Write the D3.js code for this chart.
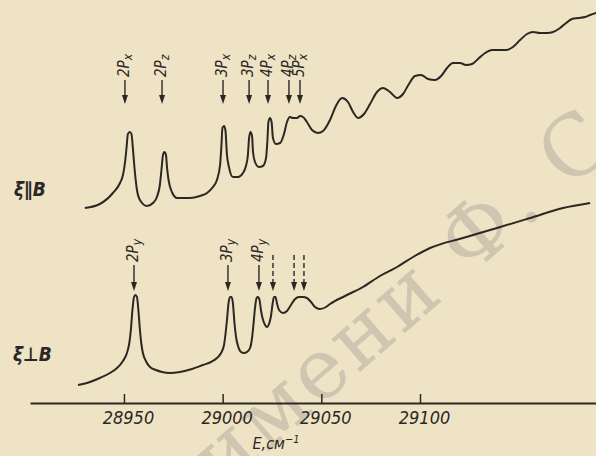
<!doctype html>
<html lang="ru">
<head>
<meta charset="UTF-8" />
<script src="https://d3js.org/d3.v7.min.js"></script>
<style>
  body { margin: 0; background: #efe3c5; }
  svg { display: block; }
</style>
</head>
<body>
<div id="chart"></div>
<script>
// photon energy, cm^-1, and absorption (arb. units)
const energyPar = [28930.2, 28937.8, 28944.4, 28948.0, 28949.5, 28950.5, 28951.3, 28952.0, 28953.0, 28953.8,
  28954.6, 28955.3, 28956.6, 28958.1, 28961.7, 28964.7, 28966.7, 28968.2, 28969.0, 28969.8,
  28970.5, 28971.3, 28971.8, 28972.6, 28974.3, 28976.9, 28983.4, 28988.5, 28992.1, 28995.1,
  28997.1, 28998.7, 28999.4, 28999.9, 29000.7, 29001.4, 29002.2, 29003.2, 29005.2, 29007.8,
  29010.3, 29011.8, 29012.8, 29013.4, 29014.1, 29014.9, 29015.4, 29016.4, 29018.4, 29020.4,
  29022.0, 29022.7, 29023.2, 29024.0, 29024.8, 29025.5, 29027.0, 29029.1, 29031.1, 29032.6,
  29034.1, 29035.6, 29037.7, 29039.2, 29040.7, 29042.7, 29045.3, 29048.3, 29050.9, 29054.4,
  29057.4, 29060.5, 29063.5, 29066.1, 29068.6, 29071.6, 29074.7, 29078.2, 29081.3, 29084.8,
  29088.4, 29091.4, 29094.4, 29097.5, 29100.5, 29104.1, 29107.6, 29110.7, 29113.7, 29116.7,
  29120.3, 29123.3, 29126.4, 29129.9, 29133.0, 29136.5, 29140.0, 29143.6, 29147.1, 29150.7,
  29154.2, 29157.3, 29160.8, 29164.4, 29167.4, 29171.0, 29174.0, 29177.0, 29180.1, 29183.6,
  29186.2, 29189.2]
const absPar = [195, 199, 210, 220, 228, 240, 255, 269, 271, 269,
  253, 236, 213, 203, 197, 200, 206, 218, 233, 248,
  251, 248, 236, 223, 211, 205, 205, 207, 210, 216,
  223, 238, 258, 275, 277, 273, 248, 236, 226, 226,
  230, 237, 248, 265, 271, 267, 251, 241, 236, 237,
  245, 263, 281, 285, 281, 265, 259, 260, 269, 281,
  286, 285, 285, 287, 286, 281, 273, 270, 272, 283,
  297, 305, 301, 291, 285, 289, 299, 311, 315, 311,
  305, 309, 319, 327, 328, 324, 323, 327, 335, 340,
  340, 338, 339, 345, 350, 353, 353, 353, 356, 363,
  369, 371, 370, 370, 371, 375, 380, 384, 385, 386,
  388, 390]

const energyPerp = [28926.7, 28932.8, 28937.8, 28942.9, 28946.5, 28949.5, 28951.5, 28952.8, 28953.5, 28954.3,
  28955.1, 28955.8, 28956.6, 28957.3, 28958.1, 28958.9, 28959.6, 28961.1, 28963.2, 28966.2,
  28969.3, 28973.3, 28978.4, 28984.5, 28990.0, 28994.1, 28997.1, 28999.2, 29000.7, 29001.4,
  29002.2, 29003.0, 29003.7, 29004.5, 29005.2, 29006.0, 29006.8, 29007.8, 29009.3, 29010.8,
  29012.3, 29013.9, 29014.9, 29015.6, 29016.4, 29017.2, 29017.9, 29018.7, 29019.4, 29020.2,
  29021.5, 29022.5, 29023.5, 29024.5, 29025.3, 29026.0, 29026.8, 29027.5, 29028.6, 29030.6,
  29032.6, 29034.6, 29036.7, 29038.7, 29040.7, 29042.7, 29044.8, 29046.8, 29049.3, 29052.4,
  29054.4, 29062.0, 29071.1, 29079.7, 29088.4, 29096.5, 29105.1, 29121.8, 29139.0, 29155.8,
  29172.5, 29186.2]
const absPerp = [18, 21, 25, 30, 35, 42, 50, 61, 73, 93,
  106, 108, 106, 93, 73, 58, 50, 42, 36, 33,
  31, 30, 31, 34, 38, 41, 45, 50, 58, 68,
  83, 100, 106, 106, 100, 80, 66, 57, 51, 50,
  51, 55, 65, 78, 95, 105, 106, 103, 93, 85,
  78, 76, 79, 87, 99, 106, 106, 100, 93, 90,
  92, 98, 104, 106, 106, 105, 101, 96, 94, 96,
  99, 107, 116, 127, 136, 146, 155, 165, 175, 185,
  195, 200]

// line markers
const parNames = ["2P", "2P", "3P", "3P", "4P", "4P", "5P"]
const parSubs = ["x", "z", "x", "z", "x", "z", "x"]
const parEnergy = [28950.5, 28969.3, 29000.2, 29013.4, 29023.0, 29033.6, 29039.2]

const perpNames = ["2P", "3P", "4P", "", "", ""]
const perpSubs = ["y", "y", "y", "", "", ""]
const perpEnergy = [28955.1, 29002.7, 29018.4, 29025.5, 29036.2, 29041.2]

const tickValues = [28950, 29000, 29050, 29100]

const W = 596, H = 456
const ink = "#2b2824"
const font = "'DejaVu Sans Condensed', 'Liberation Sans', sans-serif"

const x = d3.scaleLinear().domain([28902.4, 29191.2]).range([30, 600])
const y = d3.scaleLinear().domain([0, 400]).range([403, 3])

const svg = d3.select("#chart").append("svg")
  .attr("width", W).attr("height", H)
  .style("background", "#efe3c5")

// faint library watermark
svg.append("text")
  .attr("transform", "translate(222,492) rotate(-41)")
  .attr("font-family", "DejaVu Serif, serif")
  .attr("font-size", 84)
  .attr("fill", "#a8a398")
  .attr("opacity", 0.45)
  .attr("letter-spacing", 3)
  .text("имени Ф. С")

const line = d3.line()
  .x(d => x(d[0]))
  .y(d => y(d[1]))
  .curve(d3.curveMonotoneX)

svg.append("path")
  .datum(d3.zip(energyPar, absPar))
  .attr("d", line)
  .attr("fill", "none")
  .attr("stroke", ink)
  .attr("stroke-width", 2)

svg.append("path")
  .datum(d3.zip(energyPerp, absPerp))
  .attr("d", line)
  .attr("fill", "none")
  .attr("stroke", ink)
  .attr("stroke-width", 2)

// axis
const axis = svg.append("g")
  .attr("transform", "translate(0,403)")
  .call(d3.axisBottom(x).tickValues(tickValues).tickSizeInner(-9).tickSizeOuter(0).tickPadding(8).tickFormat(d3.format("d")))
axis.select(".domain").attr("stroke", ink).attr("stroke-width", 2)
axis.selectAll(".tick line").attr("stroke", ink).attr("stroke-width", 1.5)
axis.selectAll(".tick text")
  .attr("fill", ink)
  .attr("dx", 4)
  .style("font-family", font)
  .style("font-style", "italic")
  .style("font-size", "18px")

svg.append("text")
  .attr("x", 276).attr("y", 449)
  .attr("text-anchor", "middle")
  .attr("fill", ink)
  .style("font-family", font)
  .style("font-style", "italic")
  .style("font-size", "16px")
  .text("E,см")
  .append("tspan").attr("dy", -6).style("font-size", "11px").text("−1")

// curve labels
svg.append("text")
  .attr("x", 14).attr("y", 196)
  .attr("fill", ink)
  .style("font-family", font).style("font-style", "italic").style("font-weight", "bold")
  .style("font-size", "19px")
  .text("ξ∥B")
svg.append("text")
  .attr("x", 13).attr("y", 361)
  .attr("fill", ink)
  .style("font-family", font).style("font-style", "italic").style("font-weight", "bold")
  .style("font-size", "19px")
  .text("ξ⊥B")

// arrows with rotated labels
function drawMarkers(energies, names, subs, top, bottom, labelBottom, dashed) {
  energies.forEach((e, i) => {
    const px = x(e)
    const g = svg.append("g")
    const isDashed = dashed && !names[i]
    g.append("line")
      .attr("x1", px).attr("x2", px)
      .attr("y1", isDashed ? top - 10 : top).attr("y2", bottom - 6)
      .attr("stroke", ink).attr("stroke-width", 1.4)
      .attr("stroke-dasharray", isDashed ? "5,3" : null)
    g.append("path")
      .attr("d", `M${px - 3},${bottom - 9} L${px + 3},${bottom - 9} L${px},${bottom} Z`)
      .attr("fill", ink)
    if (names[i]) {
      const t = svg.append("text")
        .attr("transform", `translate(${px + 4},${labelBottom}) rotate(-90)`)
        .attr("fill", ink)
        .style("font-family", font).style("font-style", "italic")
        .style("font-size", "15px")
      t.append("tspan").text(names[i])
      t.append("tspan").attr("dy", 3).style("font-size", "12px").text(subs[i])
    }
  })
}

drawMarkers(parEnergy, parNames, parSubs, 80, 104, 77, false)
drawMarkers(perpEnergy, perpNames, perpSubs, 265, 291, 262, true)
</script>
</body>
</html>
